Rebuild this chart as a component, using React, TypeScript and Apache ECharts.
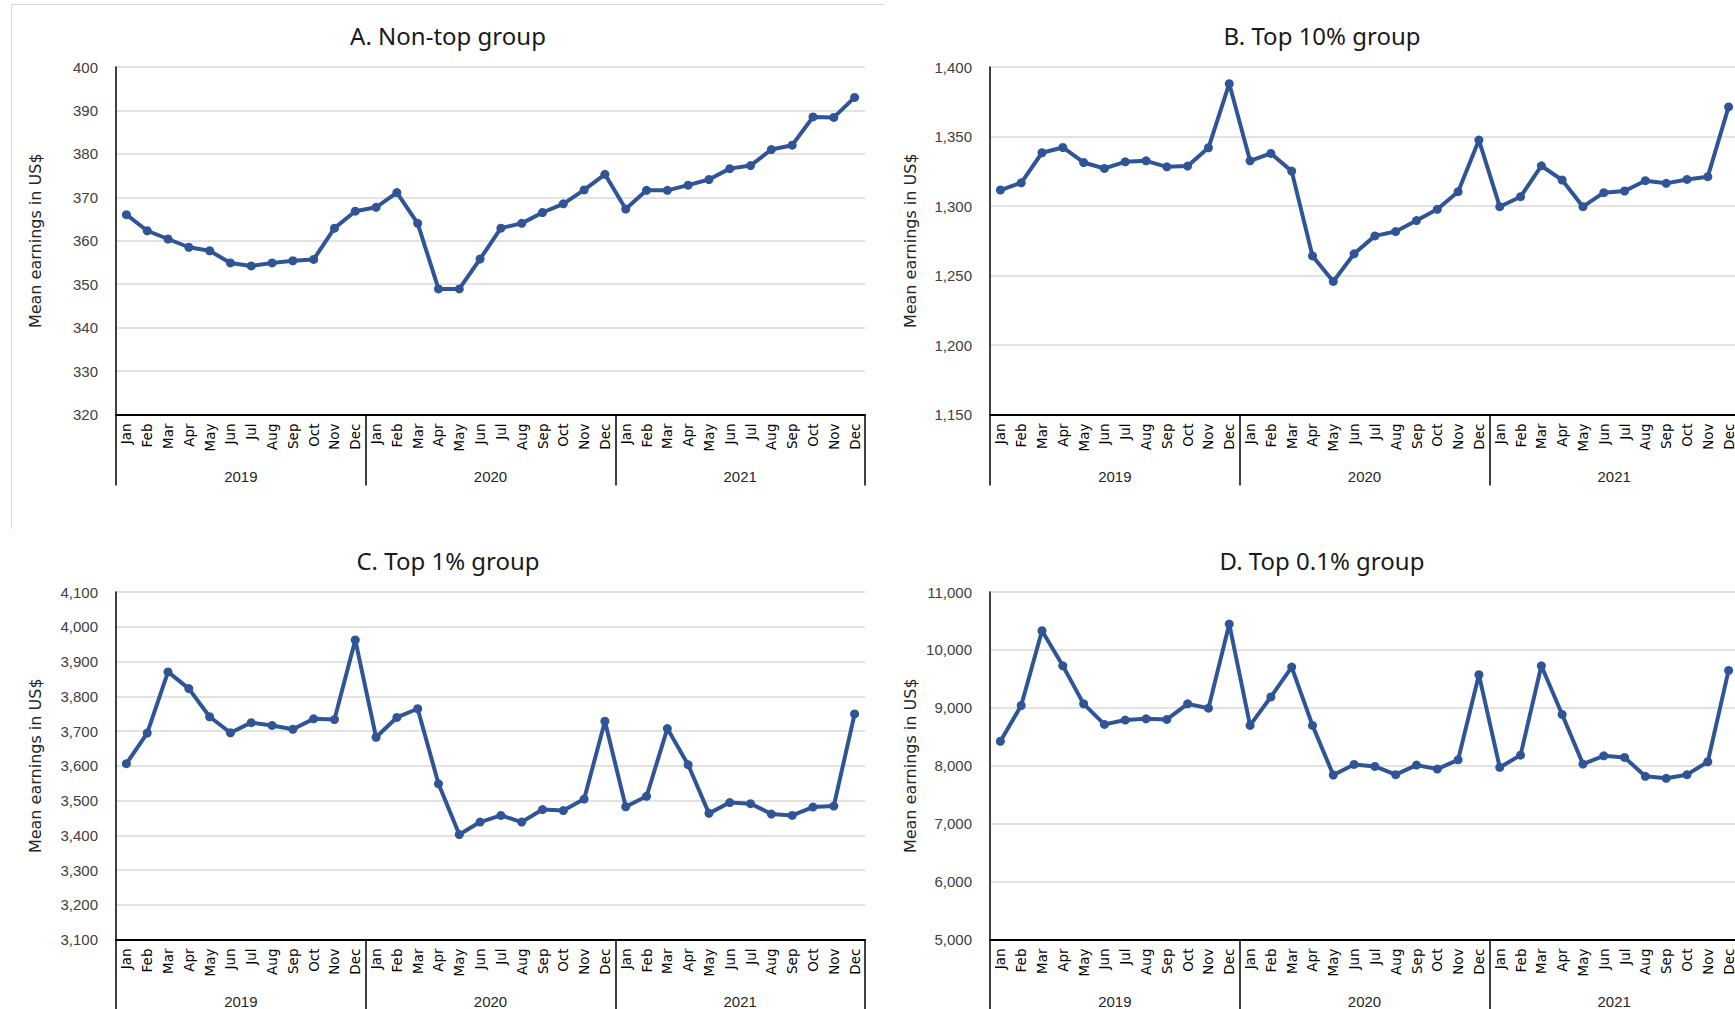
import { useEffect, useRef } from "react";
import * as echarts from "echarts";

const monthNames = ["Jan", "Feb", "Mar", "Apr", "May", "Jun", "Jul", "Aug", "Sep", "Oct", "Nov", "Dec"];
const years = ["2019", "2020", "2021"];
const categories = years.flatMap((y) => monthNames.map((m) => `${m} ${y}`));

const panelTitles = ["A. Non-top group", "B. Top 10% group", "C. Top 1% group", "D. Top 0.1% group"];
const axisTitle = "Mean earnings in US$";

const nonTop = [
  366.0, 362.3, 360.4, 358.5, 357.7, 354.9, 354.2, 354.9, 355.4, 355.7, 362.9, 366.8,
  367.7, 371.1, 364.0, 348.9, 348.9, 355.8, 362.9, 364.0, 366.5, 368.5, 371.7, 375.3,
  367.3, 371.6, 371.6, 372.8, 374.1, 376.6, 377.3, 381.0, 382.0, 388.5, 388.4, 393.0,
];
const top10 = [
  1311.5, 1316.7, 1338.3, 1342.1, 1331.3, 1327.0, 1331.8, 1332.5, 1328.2, 1328.7, 1341.9, 1388.0,
  1332.5, 1337.8, 1325.1, 1264.1, 1245.7, 1265.6, 1278.5, 1281.6, 1289.5, 1297.6, 1310.3, 1347.4,
  1299.5, 1306.7, 1328.9, 1318.7, 1299.5, 1309.6, 1310.8, 1318.2, 1316.3, 1319.1, 1321.1, 1371.3,
];
const top1 = [
  3606, 3694, 3870, 3822, 3741, 3695, 3724, 3716, 3705, 3735, 3733, 3962,
  3682, 3739, 3764, 3548, 3402, 3438, 3457, 3438, 3474, 3471, 3504, 3728,
  3482, 3512, 3707, 3603, 3463, 3494, 3491, 3461, 3457, 3481, 3484, 3749,
];
const top01 = [
  8423, 9040, 10331, 9726, 9069, 8714, 8789, 8811, 8800, 9069, 8994, 10446,
  8697, 9189, 9703, 8697, 7840, 8023, 7989, 7846, 8011, 7943, 8103, 9571,
  7971, 8183, 9726, 8886, 8029, 8171, 8143, 7817, 7783, 7846, 8069, 9646,
];

// y scale of each panel: [min, max, step]
const yScales = [
  [320, 400, 10],
  [1150, 1400, 50],
  [3100, 4100, 100],
  [5000, 11000, 1000],
];
const seriesData = [nonTop, top10, top1, top01];

const BLUE = "#2F5597";

// layout of the four panels (pixels)
const panels = [
  { left: 116, top: 67, titleX: 448, titleY: 35, nameX: 35 },
  { left: 990, top: 67, titleX: 1322, titleY: 35, nameX: 910 },
  { left: 116, top: 592, titleX: 448, titleY: 560, nameX: 35 },
  { left: 990, top: 592, titleX: 1322, titleY: 560, nameX: 910 },
];
const PLOT_W = 749;
const PLOT_H = 347.5;

export default function App() {
  const chartRef = useRef<HTMLDivElement>(null);

  useEffect(() => {
    if (!chartRef.current) return;
    const chart = echarts.init(chartRef.current, undefined, { renderer: "svg" });

    const grid: any[] = [];
    const xAxis: any[] = [];
    const yAxis: any[] = [];
    const series: any[] = [];
    const graphic: any[] = [
      { type: "line", shape: { x1: 11.5, y1: 4.5, x2: 885, y2: 4.5 }, style: { stroke: "#d9d9d9", lineWidth: 1 } },
      { type: "line", shape: { x1: 11.5, y1: 4.5, x2: 11.5, y2: 529 }, style: { stroke: "#d9d9d9", lineWidth: 1 } },
    ];

    panels.forEach((p, i) => {
      grid.push({ left: p.left, top: p.top, width: PLOT_W, height: PLOT_H, containLabel: false });
      xAxis.push({
        type: "category",
        gridIndex: i,
        data: categories,
        boundaryGap: true,
        axisLine: { lineStyle: { color: "#000", width: 2 } },
        axisTick: { show: false },
        splitLine: { show: false },
        axisLabel: {
          interval: 0,
          rotate: 90,
          margin: 9,
          fontFamily: "DejaVu Sans",
          fontSize: 13.5,
          color: "#000",
          formatter: (v: string) => v.split(" ")[0],
        },
      });
      xAxis.push({
        type: "category",
        gridIndex: i,
        position: "bottom",
        data: years,
        boundaryGap: true,
        axisLine: { show: false },
        axisTick: { show: true, interval: 0, length: 71, lineStyle: { color: "#000", width: 1.5 } },
        splitLine: { show: false },
        axisLabel: {
          interval: 0,
          margin: 54,
          fontFamily: "Liberation Sans",
          fontSize: 15,
          color: "#262626",
        },
      });
      const [min, max, step] = yScales[i];
      yAxis.push({
        type: "value",
        gridIndex: i,
        min,
        max,
        interval: step,
        axisLine: { show: true, lineStyle: { color: "#000", width: 1.5 } },
        axisTick: { show: false },
        splitLine: { lineStyle: { color: "#d9d9d9", width: 1.5 } },
        axisLabel: {
          margin: 18,
          fontFamily: "Liberation Sans",
          fontSize: 15,
          color: "#404040",
          formatter: (v: number) => v.toLocaleString("en-US"),
        },
      });
      series.push({
        type: "line",
        xAxisIndex: i * 2,
        yAxisIndex: i,
        data: seriesData[i],
        symbol: "circle",
        symbolSize: 9,
        showAllSymbol: true,
        lineStyle: { color: BLUE, width: 4 },
        itemStyle: { color: BLUE },
      });
      graphic.push({
        type: "text",
        x: p.titleX,
        y: p.titleY,
        style: {
          text: panelTitles[i],
          fill: "#1a1a1a",
          font: '24px "Noto Sans"',
          align: "center",
          verticalAlign: "middle",
        },
      });
      graphic.push({
        type: "text",
        x: p.nameX,
        y: p.top + PLOT_H / 2,
        rotation: Math.PI / 2,
        style: {
          text: axisTitle,
          fill: "#262626",
          font: '16px "DejaVu Sans"',
          align: "center",
          verticalAlign: "middle",
        },
      });
    });

    chart.setOption({
      animation: false,
      backgroundColor: "#fff",
      grid,
      xAxis,
      yAxis,
      series,
      graphic,
    });

    return () => {
      chart.dispose();
    };
  }, []);

  return (
    <div
      style={{
        position: "fixed",
        left: 0,
        top: 0,
        width: "100vw",
        height: "100vh",
        overflow: "hidden",
        background: "#fff",
      }}
    >
      <div ref={chartRef} style={{ width: 1760, height: 1009 }} />
    </div>
  );
}
